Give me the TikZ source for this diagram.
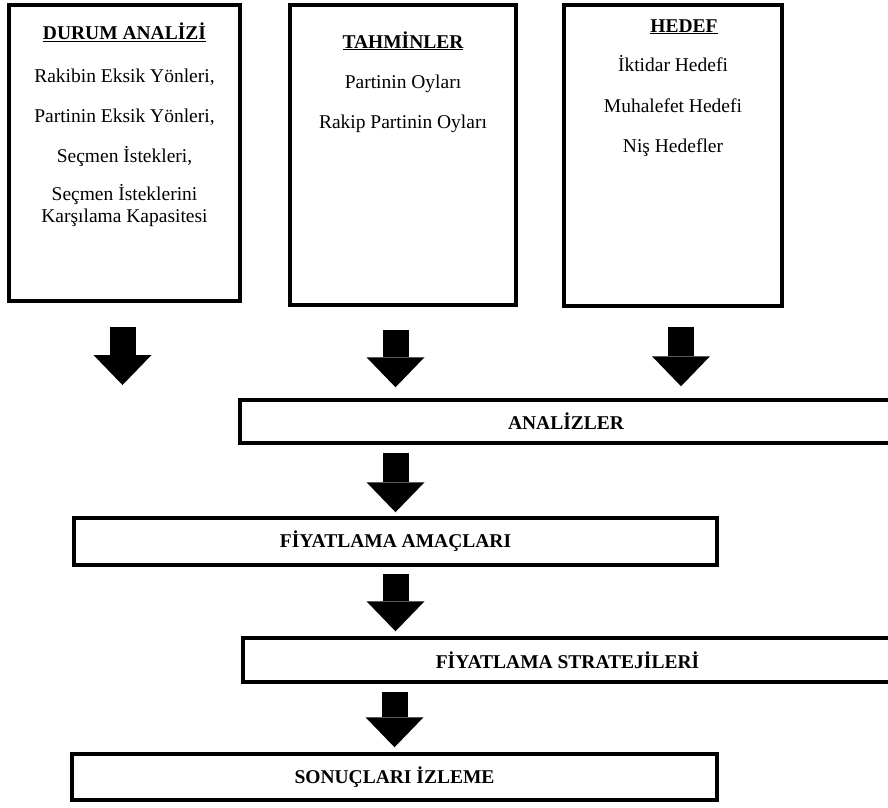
\documentclass[tikz,border=0pt]{standalone}
\usepackage{fontspec}
\setmainfont{Liberation Serif}
\usetikzlibrary{arrows.meta}

\begin{document}
\begin{tikzpicture}[x=1pt, y=1pt,
                every node/.style = {font=\fontsize{19.5}{22}\selectfont},
                tallbox/.style = {draw, line width=3.5pt, inner sep=0pt},
                widebox/.style = {draw, line width=3.5pt, inner sep=0pt,
                                  font=\fontsize{19.5}{22}\selectfont\bfseries},
                boxtext/.style = {align=center, inner sep=0pt, anchor=north},
                bigarrow/.style = {line width=26pt,
                                   -{Triangle[width=58pt, length=30pt, line width=0pt]}}
                ]
                \useasboundingbox (0,0) rectangle (888,-807);

                \node[tallbox, minimum width=231, minimum height=296] (durum) at (124.5,-153) {};
                \node[tallbox, minimum width=226, minimum height=300] (tahmin) at (403,-155) {};
                \node[tallbox, minimum width=218, minimum height=301] (hedef) at (673,-155.5) {};

                \node[boxtext] (durumtext) at ([yshift=-19pt]durum.north)
                    {\textbf{\underline{DURUM ANALİZİ}}\\[21pt]
                     Rakibin Eksik Yönleri,\\[18pt]
                     Partinin Eksik Yönleri,\\[18pt]
                     Seçmen İstekleri,\\[16pt]
                     Seçmen İsteklerini\\
                     Karşılama Kapasitesi};
                \node[boxtext] (tahmintext) at ([yshift=-28pt]tahmin.north)
                    {\textbf{\underline{TAHMİNLER}}\\[18pt]
                     Partinin Oyları\\[18pt]
                     Rakip Partinin Oyları};
                \node[boxtext] (hedeftext) at ([yshift=-16pt]hedef.north)
                    {\hspace*{22pt}\textbf{\underline{HEDEF}}\\[17pt]
                     İktidar Hedefi\\[19pt]
                     Muhalefet Hedefi\\[18pt]
                     Niş Hedefler};

                \node[widebox, minimum width=652, minimum height=43] (analiz) at (566,-421.5) {ANALİZLER};
                \node[widebox, minimum width=643, minimum height=47] (amac) at (395.5,-541.5) {FİYATLAMA AMAÇLARI};
                \node[widebox, minimum width=649, minimum height=44] (strat) at (567.5,-660) {FİYATLAMA STRATEJİLERİ};
                \node[widebox, minimum width=645, minimum height=46] (izleme) at (394.5,-777) {SONUÇLARI İZLEME};

                \coordinate (d1) at (122.5,-385);
                \draw[bigarrow, shorten <=24pt] (durum.south -| d1) -- (d1);
                \draw[bigarrow, shorten <=23pt, shorten >=11pt] (tahmin.south -| amac.north) -- (analiz.north -| amac.north);
                \draw[bigarrow, shorten <=19pt, shorten >=12pt] ([xshift=8pt]hedef.south) -- ([xshift=8pt]hedef.south |- analiz.north);
                \draw[bigarrow, shorten <=8pt, shorten >=4pt] (analiz.south -| amac.north) -- (amac.north);
                \draw[bigarrow, shorten <=7pt, shorten >=5pt] (amac.south) -- (strat.north -| amac.south);
                \draw[bigarrow, shorten <=8pt, shorten >=5pt] (strat.south -| izleme.north) -- (izleme.north);
            \end{tikzpicture}
\end{document}
